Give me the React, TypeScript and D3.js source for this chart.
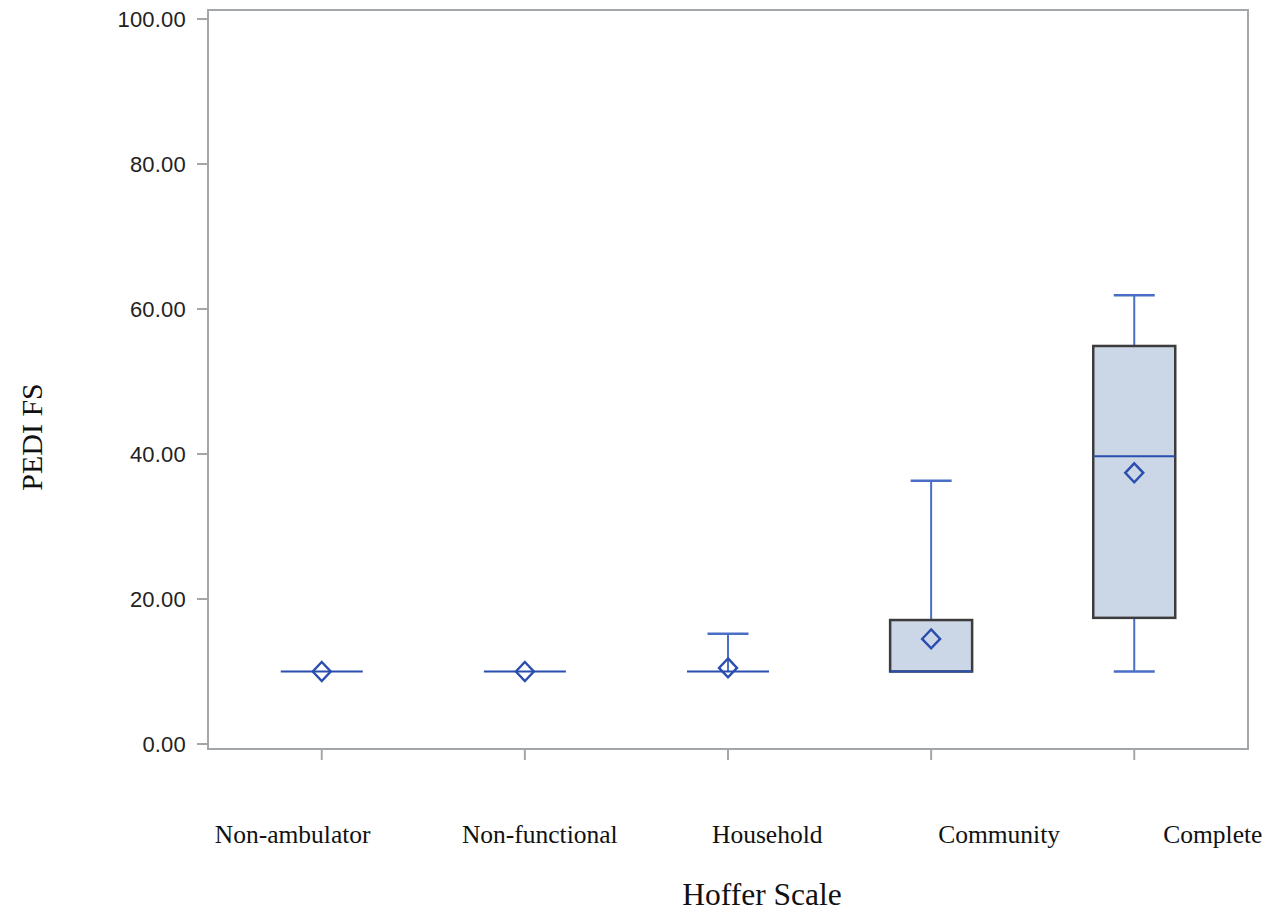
import React from "react";
import * as d3 from "d3";

const categories = ["Non-ambulator", "Non-functional", "Household", "Community", "Complete"];
const minVals = [10, 10, 10, 10, 10];
const q1Vals = [10, 10, 10, 10, 17.4];
const medianVals = [10, 10, 10, 10, 39.7];
const q3Vals = [10, 10, 10, 17.1, 54.9];
const maxVals = [10, 10, 15.2, 36.3, 61.9];
const meanVals = [10, 10, 10.5, 14.5, 37.4];
const yTicks = [0, 20, 40, 60, 80, 100];

// layout (not data)
const W = 1270, H = 918;
const frame = { left: 208, right: 1248, top: 10, bottom: 749 };
const labelShift = [-107, -63, -16, 7, 29];

export default function App() {
  const x = d3.scalePoint<string>().domain(categories).range([frame.left, frame.right]).padding(0.56);
  const y = d3.scaleLinear().domain([0, 100]).range([744, 19]);
  const boxW = 82;
  const capW = 41;
  const whisker = "#4a6ec6";
  const blue = "#2a4db0";
  const frameColor = "#a4a7aa";

  return (
    <svg width={W} height={H} style={{ position: "absolute", left: 0, top: 0, background: "#fff" }}>
      <rect x={0} y={0} width={W} height={H} fill="#fff" />
      <rect x={frame.left} y={frame.top} width={frame.right - frame.left} height={frame.bottom - frame.top}
        fill="none" stroke={frameColor} strokeWidth={2} />
      {yTicks.map((t) => (
        <g key={t}>
          <line x1={frame.left - 11} x2={frame.left} y1={y(t)} y2={y(t)} stroke={frameColor} strokeWidth={2} />
          <text x={frame.left - 22} y={y(t)} dy="0.37em" textAnchor="end"
            fontFamily="Liberation Sans, Arial, sans-serif" fontSize={22} letterSpacing={0.2} fill="#222">
            {d3.format(".2f")(t)}
          </text>
        </g>
      ))}
      {categories.map((c, i) => {
        const cx = x(c)!;
        const collapsed = q3Vals[i] === q1Vals[i];
        return (
          <g key={c}>
            <line x1={cx} x2={cx} y1={frame.bottom} y2={frame.bottom + 11} stroke={frameColor} strokeWidth={2} />
            {maxVals[i] > q3Vals[i] && (
              <g>
                <line x1={cx} x2={cx} y1={y(q3Vals[i])} y2={y(maxVals[i])} stroke={whisker} strokeWidth={2} />
                <line x1={cx - capW / 2} x2={cx + capW / 2} y1={y(maxVals[i])} y2={y(maxVals[i])} stroke={whisker} strokeWidth={2.5} />
              </g>
            )}
            {minVals[i] < q1Vals[i] && (
              <g>
                <line x1={cx} x2={cx} y1={y(q1Vals[i])} y2={y(minVals[i])} stroke={whisker} strokeWidth={2} />
                <line x1={cx - capW / 2} x2={cx + capW / 2} y1={y(minVals[i])} y2={y(minVals[i])} stroke={whisker} strokeWidth={2.5} />
              </g>
            )}
            {!collapsed && (
              <rect x={cx - boxW / 2} y={y(q3Vals[i])} width={boxW} height={y(q1Vals[i]) - y(q3Vals[i])}
                fill="#cbd6e6" stroke="#3c3c3c" strokeWidth={2.5} />
            )}
            <line x1={cx - boxW / 2} x2={cx + boxW / 2} y1={y(medianVals[i])} y2={y(medianVals[i])} stroke={blue} strokeWidth={2} />
            <path
              d={`M${cx},${y(meanVals[i]) - 9.5} L${cx + 9},${y(meanVals[i])} L${cx},${y(meanVals[i]) + 9.5} L${cx - 9},${y(meanVals[i])} Z`}
              fill="none" stroke={blue} strokeWidth={2.4} />
            <text x={cx + labelShift[i]} y={843} fontFamily="Liberation Serif, Times New Roman, serif" fontSize={25.5} fill="#111">
              {c}
            </text>
          </g>
        );
      })}
      <text x={762} y={905} textAnchor="middle" fontFamily="Liberation Serif, Times New Roman, serif" fontSize={31.5} fill="#111">
        Hoffer Scale
      </text>
      <text transform="translate(42,437) rotate(-90)" textAnchor="middle" fontFamily="Liberation Serif, Times New Roman, serif" fontSize={30} fill="#111">
        PEDI FS
      </text>
    </svg>
  );
}
